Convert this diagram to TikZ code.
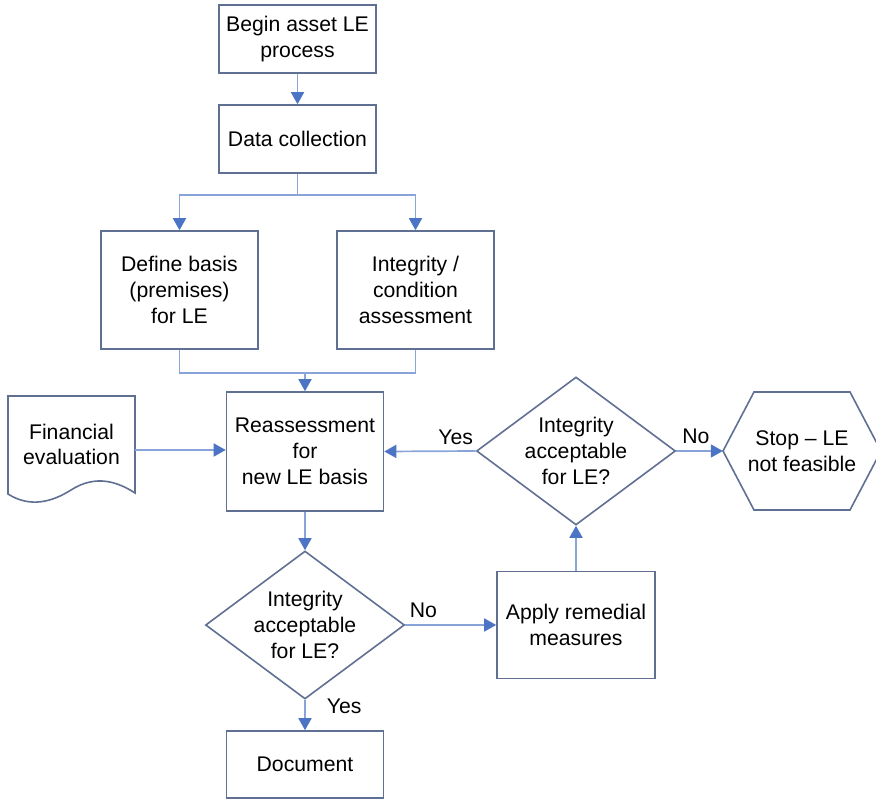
\documentclass[tikz,border=0pt]{standalone}
\usepackage{fontspec}
\setmainfont{Liberation Sans}
\usetikzlibrary{arrows.meta,shapes.geometric}

\definecolor{boxline}{RGB}{96,112,146}
\definecolor{flowline}{RGB}{136,164,216}
\definecolor{tipfill}{RGB}{76,116,196}

\tikzset{
  every node/.style={font=\fontsize{21.2}{25.8}\selectfont, align=center, inner sep=0pt},
  procbox/.style={draw=boxline, line width=1.6pt, fill=white, rectangle},
  decbox/.style={draw=boxline, line width=1.6pt, fill=white, diamond, shape aspect=1.345},
  outline/.style={draw=boxline, line width=1.6pt, fill=white, line join=miter},
  flow/.style={draw=flowline, line width=1.7pt},
  arrow/.style={flow, -{Triangle[length=12pt,width=13pt,fill=tipfill,color=tipfill]}},
  lbl/.style={}
}

\begin{document}
\begin{tikzpicture}[x=1pt,y=-1pt]
\clip (0,0) rectangle (876,799);
\fill[white] (0,0) rectangle (876,799);

% process boxes
\node[procbox, minimum width=157pt, minimum height=68pt] (begin) at (297.5,39) {Begin asset LE\\process};
\node[procbox, minimum width=157pt, minimum height=68pt] (data) at (297.5,139) {Data collection};
\node[procbox, minimum width=157pt, minimum height=118pt] (basis) at (179.5,290) {Define basis\\(premises)\\for LE};
\node[procbox, minimum width=157pt, minimum height=118pt] (integ) at (415.5,290) {Integrity /\\condition\\assessment};
\node[procbox, minimum width=157pt, minimum height=119pt] (reass) at (305,451.5) {Reassessment\\for\\new LE basis};
\node[procbox, minimum width=158pt, minimum height=107pt] (remedy) at (576,625) {Apply remedial\\measures};
\node[procbox, minimum width=157pt, minimum height=67pt] (doc) at (305,764.5) {Document};

% decisions
\node[decbox, minimum width=199pt, minimum height=148pt] (decR) at (576,451) {Integrity\\acceptable\\for LE?};
\node[decbox, minimum width=199pt, minimum height=148pt] (decB) at (305,625) {Integrity\\acceptable\\for LE?};

% document symbol (wavy bottom edge)
\path[outline] (8,396) -- (135,396) -- (135,493)
  .. controls (118,482) and (96,474) .. (71,490)
  .. controls (52,502) and (30,508) .. (8,494) -- cycle;
\node (fin) at (71.5,444.5) {Financial\\evaluation};
\coordinate (finR) at (135,450);

% terminator hexagon
\path[outline] (723,451) -- (754,392) -- (850,392) -- (881,451) -- (850,510) -- (754,510) -- cycle;
\node[minimum width=158pt, minimum height=118pt] (stop) at (802,451) {Stop -- LE\\not feasible};

% connectors
\draw[arrow] (begin) -- (data);
\coordinate (split) at (297.5,195);
\draw[flow] (data.south) -- (split);
\draw[arrow] (split) -| (basis.north);
\draw[arrow] (split) -| (integ.north);
\coordinate (merge) at (305,373);
\draw[flow] (basis.south) |- (merge) -| (integ.south);
\draw[arrow] (merge) -- (reass.north);
\draw[arrow] (finR) -- (finR -| reass.west);
\draw[arrow] (decR.west) -- (reass.east) node[pos=0.22, above=6pt, lbl] {Yes};
\draw[arrow] (decR.east) -- (stop.west) node[pos=0.42, above=6pt, lbl] {No};
\draw[arrow] (reass.south) -- (decB.north);
\draw[arrow] (decB.east) -- (remedy.west) node[pos=0.2, above=6pt, lbl] {No};
\draw[arrow] (remedy.north) -- (decR.south);
\draw[arrow] (decB.south) -- (doc.north) node[pos=0.22, right=21pt, lbl] {Yes};
\end{tikzpicture}
\end{document}
